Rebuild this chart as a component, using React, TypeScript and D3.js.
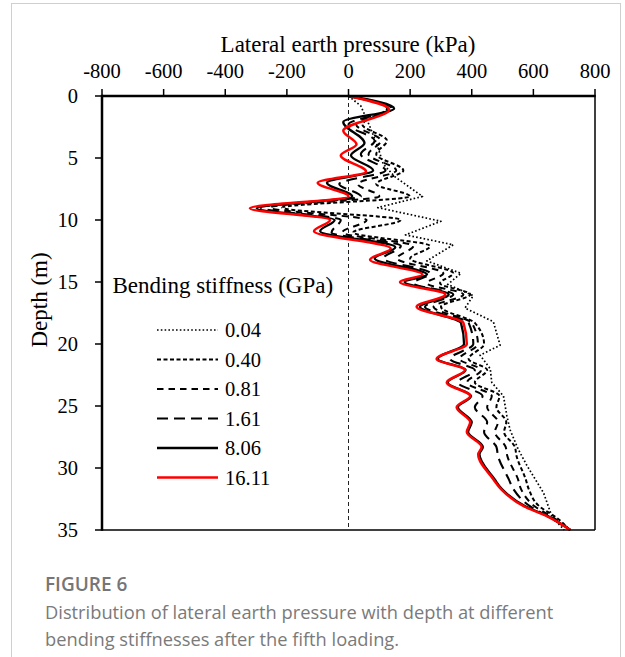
import React from "react";
import * as d3 from "d3";

// ---- Data ----
const xTicks = [-800, -600, -400, -200, 0, 200, 400, 600, 800];
const yTicks = [0, 5, 10, 15, 20, 25, 30, 35];

const seriesNames = ["0.04", "0.40", "0.81", "1.61", "8.06", "16.11"];

const depth004 = [0, 0.8, 2.5, 4.1, 5.5, 6.5, 8.1, 9.0, 10.1, 11.2, 12.0, 13.3, 14.3, 15.2, 16.1, 17.1, 18.2, 20.1, 20.9, 22.0, 23.1, 24.2, 25.8, 26.9, 28.5, 29.8, 32.0, 33.9, 35];
const value004 = [0, 40, 70, 95, 113, 150, 240, 95, 300, 185, 340, 254, 365, 322, 405, 378, 470, 492, 427, 460, 465, 503, 514, 524, 551, 579, 633, 660, 700];

const depthDash = [0, 1.0, 2.3, 3.6, 4.7, 6.0, 7.1, 8.1, 9.0, 10.0, 11.0, 12.1, 13.1, 14.3, 15.1, 16.0, 17.0, 18.3, 20.0, 21.2, 22.1, 23.1, 24.2, 25.1, 26.3, 27.1, 28.3, 29.0, 30.9, 31.7, 33.1, 34.0, 35];
const value040 = [0, 125, 45, 125, 90, 178, 90, 200, -215, 170, 15, 265, 200, 340, 297, 395, 300, 410, 440, 390, 450, 410, 490, 480, 512, 505, 540, 545, 575, 585, 620, 675, 718];
const value081 = [0, 135, 25, 105, 65, 155, 30, 100, -255, 59, -20, 210, 157, 308, 254, 373, 276, 400, 420, 360, 430, 385, 465, 450, 485, 475, 510, 515, 550, 560, 605, 665, 720];
const value161 = [0, 140, 0, 85, 40, 120, -30, 40, -285, -25, -55, 170, 113, 265, 210, 340, 248, 390, 405, 330, 410, 355, 435, 410, 450, 440, 480, 485, 520, 535, 590, 655, 720];

const depth806 = [0, 1.0, 2.1, 3.8, 4.8, 6.0, 7.0, 8.1, 9.05, 10.0, 10.9, 12.2, 13.1, 14.4, 15.0, 16.0, 17.0, 18.3, 20.0, 21.2, 22.1, 23.1, 24.2, 25.1, 26.3, 27.1, 28.3, 28.9, 30.9, 31.7, 33.1, 33.9, 35];
const value806 = [0, 148, -17, 52, 8, 80, -70, 12, -298, -45, -92, 152, 85, 255, 182, 325, 232, 365, 375, 290, 380, 322, 398, 355, 400, 388, 436, 425, 474, 498, 575, 648, 720];

const depth1611 = [0, 1.1, 2.8, 3.9, 4.8, 6.1, 7.0, 8.1, 9.05, 10.0, 10.9, 12.3, 13.2, 14.4, 15.0, 16.0, 17.0, 18.3, 20.0, 21.2, 22.1, 23.1, 24.2, 25.1, 26.3, 27.1, 28.3, 28.9, 30.9, 31.7, 33.1, 33.9, 35];
const value1611 = [0, 132, -17, 26, -25, 57, -100, 0, -320, -60, -112, 137, 70, 240, 167, 314, 221, 373, 384, 286, 378, 319, 395, 351, 395, 384, 432, 421, 470, 495, 570, 645, 720];

type S = { name: string; depth: number[]; value: number[]; color: string; width: number; dash: string | undefined; linear: boolean };

const series: S[] = [
  { name: seriesNames[0], depth: depth004, value: value004, color: "#000", width: 1.7, dash: "1.6,2.2", linear: true },
  { name: seriesNames[1], depth: depthDash, value: value040, color: "#000", width: 2, dash: "4,2.5", linear: false },
  { name: seriesNames[2], depth: depthDash, value: value081, color: "#000", width: 2, dash: "6.5,5", linear: false },
  { name: seriesNames[3], depth: depthDash, value: value161, color: "#000", width: 2.1, dash: "11,6", linear: false },
  { name: seriesNames[4], depth: depth806, value: value806, color: "#000", width: 2.3, dash: undefined, linear: false },
  { name: seriesNames[5], depth: depth1611, value: value1611, color: "#ff0000", width: 2.5, dash: undefined, linear: false },
];

const serif = "'Liberation Serif', 'Times New Roman', serif";
const sans = "'Open Sans', 'Noto Sans', sans-serif";

export default function App() {
  const left = 102, right = 595, top = 96, bottom = 530;
  const x = d3.scaleLinear().domain([-800, 800]).range([left, right]);
  const y = d3.scaleLinear().domain([0, 35]).range([top, bottom]);

  const makePath = (s: S) => {
    const pts: [number, number][] = s.depth.map((d, i) => [s.value[i], d]);
    const gen = d3
      .line<[number, number]>()
      .x((p) => x(p[0]))
      .y((p) => y(p[1]))
      .curve(s.linear ? d3.curveLinear : d3.curveMonotoneY);
    return gen(pts) || "";
  };

  const legendX0 = 157, legendX1 = 218, legendTextX = 225;
  const legendY0 = 330, legendStep = 29.5;

  return (
    <svg
      width={625}
      height={657}
      style={{ position: "absolute", left: 0, top: 0, background: "#fff" }}
    >
      <rect x={11.5} y={3.5} width={609} height={700} fill="#fff" stroke="#cfcfcf" strokeWidth={1} />

      {/* title */}
      <text x={348} y={52} textAnchor="middle" fontFamily={serif} fontSize={23} fill="#000">
        Lateral earth pressure (kPa)
      </text>

      {/* x tick labels */}
      {xTicks.map((t) => (
        <text key={"xl" + t} x={x(t)} y={78} textAnchor="middle" fontFamily={serif} fontSize={20.5} fill="#000">
          {t}
        </text>
      ))}
      {/* y tick labels */}
      {yTicks.map((t) => (
        <text key={"yl" + t} x={78} y={y(t) + 7} textAnchor="end" fontFamily={serif} fontSize={20.5} fill="#000">
          {t}
        </text>
      ))}

      {/* y title */}
      <text
        transform={`translate(47, 300) rotate(-90)`}
        textAnchor="middle"
        fontFamily={serif}
        fontSize={23}
        fill="#000"
      >
        Depth (m)
      </text>

      {/* zero line */}
      <line x1={x(0)} x2={x(0)} y1={top} y2={bottom} stroke="#222" strokeWidth={1} strokeDasharray="4,3" />

      {/* series */}
      {series.map((s) => (
        <path
          key={s.name}
          d={makePath(s)}
          fill="none"
          stroke={s.color}
          strokeWidth={s.width}
          strokeDasharray={s.dash}
          strokeLinejoin="round"
        />
      ))}

      {/* frame */}
      <line x1={right} x2={right} y1={top} y2={bottom} stroke="#000" strokeWidth={1.5} />
      <line x1={left} x2={right} y1={bottom} y2={bottom} stroke="#000" strokeWidth={1.5} />
      <line x1={left} x2={right + 0.75} y1={top} y2={top} stroke="#000" strokeWidth={2.5} />
      <line x1={left} x2={left} y1={top - 1.25} y2={bottom + 0.75} stroke="#000" strokeWidth={2.5} />

      {/* ticks */}
      {xTicks.map((t) => (
        <line key={"xt" + t} x1={x(t)} x2={x(t)} y1={89} y2={top} stroke="#000" strokeWidth={1.5} />
      ))}
      {yTicks.map((t) => (
        <line key={"yt" + t} x1={95} x2={left} y1={y(t)} y2={y(t)} stroke="#000" strokeWidth={1.5} />
      ))}

      {/* legend */}
      <text x={112.5} y={293} fontFamily={serif} fontSize={23} fill="#000">
        Bending stiffness (GPa)
      </text>
      {series.map((s, i) => {
        const ly = legendY0 + i * legendStep;
        return (
          <g key={"lg" + s.name}>
            <line
              x1={legendX0}
              x2={legendX1}
              y1={ly}
              y2={ly}
              stroke={s.color}
              strokeWidth={s.width}
              strokeDasharray={s.dash}
            />
            <text x={legendTextX} y={ly + 7} fontFamily={serif} fontSize={20.5} fill="#000">
              {s.name}
            </text>
          </g>
        );
      })}

      {/* caption */}
      <text x={45} y={591} fontFamily={sans} fontSize={19} fontWeight={600} fill="#767676">
        FIGURE 6
      </text>
      <text x={45} y={619} fontFamily={sans} fontSize={18.3} fill="#7a7a7a">
        Distribution of lateral earth pressure with depth at different
      </text>
      <text x={45} y={646} fontFamily={sans} fontSize={18.3} fill="#7a7a7a">
        bending stiffnesses after the fifth loading.
      </text>
    </svg>
  );
}
